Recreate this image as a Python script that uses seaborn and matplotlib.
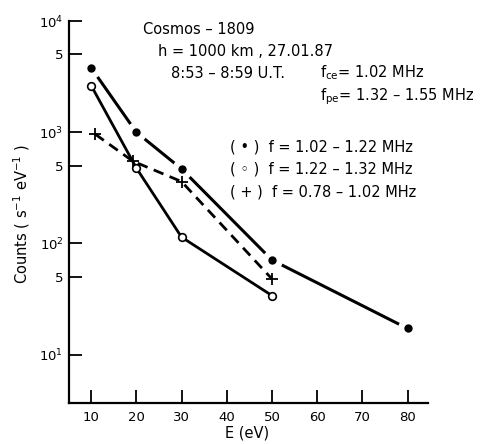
import matplotlib
matplotlib.use("Agg")
import matplotlib.pyplot as plt
import seaborn as sns
import pandas as pd

# Data
E_filled = [10, 20, 30, 50, 80]
C_filled = [3800, 1000, 468, 71, 17.2]
E_open = [10, 20, 30, 50]
C_open = [2630, 477, 114, 34]
E_plus = [10.9, 19.2, 30, 50]
C_plus = [960, 550, 360, 48]

x_ticks = [10, 20, 30, 40, 50, 60, 70, 80]
y_ticks = [10, 50, 100, 500, 1000, 5000, 10000]
y_tick_labels = ["$10^1$", "5", "$10^2$", "5", "$10^3$", "5", "$10^4$"]

sns.set_style("ticks")
plt.rcParams["font.family"] = ["DejaVu Sans"]
plt.rcParams["mathtext.fontset"] = "dejavusans"
plt.rcParams["text.color"] = "black"
plt.rcParams["xtick.color"] = "black"
plt.rcParams["ytick.color"] = "black"

W, H = 483, 444
fig = plt.figure(figsize=(W / 100, H / 100), dpi=100)
L, R, B, T = 69, 428.3, 402.7, 21
ax = fig.add_axes([L / W, 1 - B / H, (R - L) / W, (B - T) / H])

df_f = pd.DataFrame({"E": E_filled, "C": C_filled})
df_o = pd.DataFrame({"E": E_open, "C": C_open})
df_p = pd.DataFrame({"E": E_plus, "C": C_plus})

# filled series: line, white halo around points, then black dots
sns.lineplot(data=df_f, x="E", y="C", ax=ax, color="black", lw=2.2, zorder=2)
sns.lineplot(data=df_f, x="E", y="C", ax=ax, color="white", linestyle="",
             marker="o", markersize=15, markeredgewidth=0,
             markerfacecolor="white", zorder=3)
sns.lineplot(data=df_o, x="E", y="C", ax=ax, color="black", lw=2.0,
             marker="o", markersize=5.5, markerfacecolor="white",
             markeredgecolor="black", markeredgewidth=1.2, zorder=4)
sns.lineplot(data=df_p, x="E", y="C", ax=ax, color="black", lw=2.0,
             dashes=(3.8, 2.4), marker="+", markersize=8,
             markeredgecolor="black", markeredgewidth=1.3, zorder=4)
sns.lineplot(data=df_f, x="E", y="C", ax=ax, color="black", linestyle="",
             marker="o", markersize=6, markeredgewidth=0,
             markerfacecolor="black", zorder=5)

ax.set_yscale("log")
ax.set_xlim(5.1, 84.6)
ax.set_ylim(3.7, 1e4)
ax.set_xticks(x_ticks)
ax.set_xticklabels([str(v) for v in x_ticks])
ax.set_yticks(y_ticks)
ax.set_yticklabels(y_tick_labels)
ax.yaxis.set_minor_locator(matplotlib.ticker.NullLocator())
ax.tick_params(axis="both", direction="in", width=1.3, labelsize=9.5,
               colors="black")
ax.tick_params(axis="y", length=9, pad=4)
ax.tick_params(axis="x", length=9.5, pad=6)
ax.set_xlabel("")
ax.set_ylabel("")
for s in ["top", "right"]:
    ax.spines[s].set_visible(False)
for s in ["left", "bottom"]:
    ax.spines[s].set_linewidth(1.6)
    ax.spines[s].set_color("black")

def ft(x, y, s, **kw):
    fig.text(x / W, 1 - y / H, s, va="center", fontsize=10.5, color="black", **kw)

ft(143, 30, "Cosmos – 1809")
ft(158, 51, "h = 1000 km , 27.01.87")
ft(171, 73, "8:53 – 8:59 U.T.")
ft(320, 73, r"f$_{\rm ce}$= 1.02 MHz")
ft(320, 97, r"f$_{\rm pe}$= 1.32 – 1.55 MHz")
ft(230, 147, "( • )  f = 1.02 – 1.22 MHz")
ft(230, 169, "( ◦ )  f = 1.22 – 1.32 MHz")
ft(230, 192, "( + )  f = 0.78 – 1.02 MHz")

fig.text(22 / W, 1 - 214 / H, r"Counts ( s$^{-1}$ eV$^{-1}$ )", rotation=90,
         ha="center", va="center", fontsize=10.5, color="black")
fig.text(247 / W, 1 - 433 / H, "E (eV)", ha="center", va="center",
         fontsize=10.5, color="black")

fig.savefig("out.png", dpi=100)
